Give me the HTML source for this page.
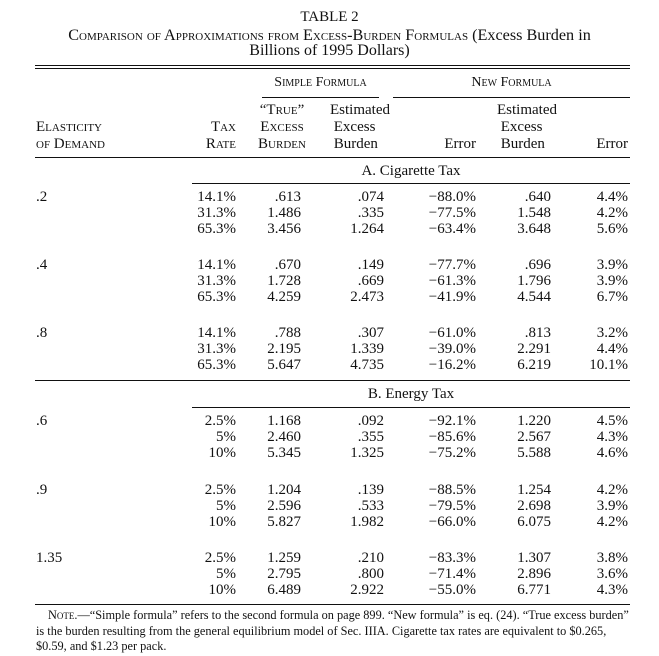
<!DOCTYPE html>
<html><head><meta charset="utf-8"><style>
body{margin:0;background:#fff;}
#t{position:relative;width:659px;height:656px;font-family:"Liberation Serif",serif;color:#111;font-size:15px;}
.a{position:absolute;white-space:nowrap;line-height:16px;}
.r{text-align:right;}
.sc{font-variant:small-caps;}
.h{position:absolute;height:1px;background:#111;}
</style></head><body>
<div id="t">
<div class="a" style="left:0;width:659px;text-align:center;top:9px">TABLE 2</div>
<div class="a sc" style="left:0;width:659px;text-align:center;top:27px;font-size:16.2px">Comparison of Approximations from Excess-Burden Formulas <span style="font-variant:normal">(Excess Burden in</span></div>
<div class="a" style="left:0;width:659px;text-align:center;top:43px;font-size:16px">Billions of 1995 Dollars)</div>
<div class="h" style="left:35px;width:595px;top:65px;height:1px"></div>
<div class="h" style="left:35px;width:595px;top:68px;height:1px"></div>
<div class="a sc" style="left:262px;width:117px;text-align:center;top:75px;font-size:14px">Simple Formula</div>
<div class="a sc" style="left:393px;width:237px;text-align:center;top:75px;font-size:14px">New Formula</div>
<div class="h" style="left:262px;width:117px;top:97px"></div>
<div class="h" style="left:393px;width:237px;top:97px"></div>
<div class="a sc" style="left:36px;top:119px;line-height:17px">Elasticity<br>of Demand</div>
<div class="a sc r" style="left:170px;width:66px;top:119px;line-height:17px">Tax<br>Rate</div>
<div class="a sc" style="left:250px;width:64px;text-align:center;top:102px;line-height:17px">“True”<br>Excess<br>Burden</div>
<div class="a" style="left:330px;top:102px;line-height:17px">Estimated<br>&nbsp;Excess<br>&nbsp;Burden</div>
<div class="a r" style="left:420px;width:56px;top:136px">Error</div>
<div class="a" style="left:497px;top:102px;line-height:17px">Estimated<br>&nbsp;Excess<br>&nbsp;Burden</div>
<div class="a r" style="left:570px;width:58px;top:136px">Error</div>
<div class="h" style="left:35px;width:595px;top:157px"></div>
<div class="a" style="left:192px;width:438px;text-align:center;top:163px">A. Cigarette Tax</div>
<div class="h" style="left:192px;width:438px;top:183px"></div>
<div class="h" style="left:35px;width:595px;top:380px"></div>
<div class="a" style="left:192px;width:438px;text-align:center;top:386px">B. Energy Tax</div>
<div class="h" style="left:192px;width:438px;top:407px"></div>
<div class="h" style="left:35px;width:595px;top:604px"></div>
<div class="a" style="left:48px;top:608px;font-size:12.3px;line-height:15.5px"><span class="sc">Note</span>.—“Simple formula” refers to the second formula on page 899. “New formula” is eq. (24). “True excess burden”<br><span style="margin-left:-12px">is the burden resulting from the general equilibrium model of Sec. IIIA. Cigarette tax rates are equivalent to $0.265,</span><br><span style="margin-left:-12px">$0.59, and $1.23 per pack.</span></div>
</div>
<script>
const groups=[
{e:".2",top:189,rates:["14.1%","31.3%","65.3%"],tru:[".613","1.486","3.456"],se:[".074",".335","1.264"],sr:["−88.0%","−77.5%","−63.4%"],ne:[".640","1.548","3.648"],nr:["4.4%","4.2%","5.6%"]},
{e:".4",top:257,rates:["14.1%","31.3%","65.3%"],tru:[".670","1.728","4.259"],se:[".149",".669","2.473"],sr:["−77.7%","−61.3%","−41.9%"],ne:[".696","1.796","4.544"],nr:["3.9%","3.9%","6.7%"]},
{e:".8",top:325,rates:["14.1%","31.3%","65.3%"],tru:[".788","2.195","5.647"],se:[".307","1.339","4.735"],sr:["−61.0%","−39.0%","−16.2%"],ne:[".813","2.291","6.219"],nr:["3.2%","4.4%","10.1%"]},
{e:".6",top:413,rates:["2.5%","5%","10%"],tru:["1.168","2.460","5.345"],se:[".092",".355","1.325"],sr:["−92.1%","−85.6%","−75.2%"],ne:["1.220","2.567","5.588"],nr:["4.5%","4.3%","4.6%"]},
{e:".9",top:482,rates:["2.5%","5%","10%"],tru:["1.204","2.596","5.827"],se:[".139",".533","1.982"],sr:["−88.5%","−79.5%","−66.0%"],ne:["1.254","2.698","6.075"],nr:["4.2%","3.9%","4.2%"]},
{e:"1.35",top:550,rates:["2.5%","5%","10%"],tru:["1.259","2.795","6.489"],se:[".210",".800","2.922"],sr:["−83.3%","−71.4%","−55.0%"],ne:["1.307","2.896","6.771"],nr:["3.8%","3.6%","4.3%"]}];
const rights=[236,301,384,476,551,628];
const t=document.getElementById('t');
function cell(txt,left,right,top){const d=document.createElement('div');d.className='a'+(right?' r':'');


if(right){d.style.left=(right-90)+'px';d.style.width='90px';}else d.style.left=left+'px';
d.style.top=top+'px';d.textContent=txt;t.appendChild(d);}
groups.forEach(g=>{cell(g.e,36,0,g.top);
[g.rates,g.tru,g.se,g.sr,g.ne,g.nr].forEach((col,ci)=>col.forEach((v,ri)=>cell(v,0,rights[ci],g.top+ri*16)));});
</script>
</body></html>
